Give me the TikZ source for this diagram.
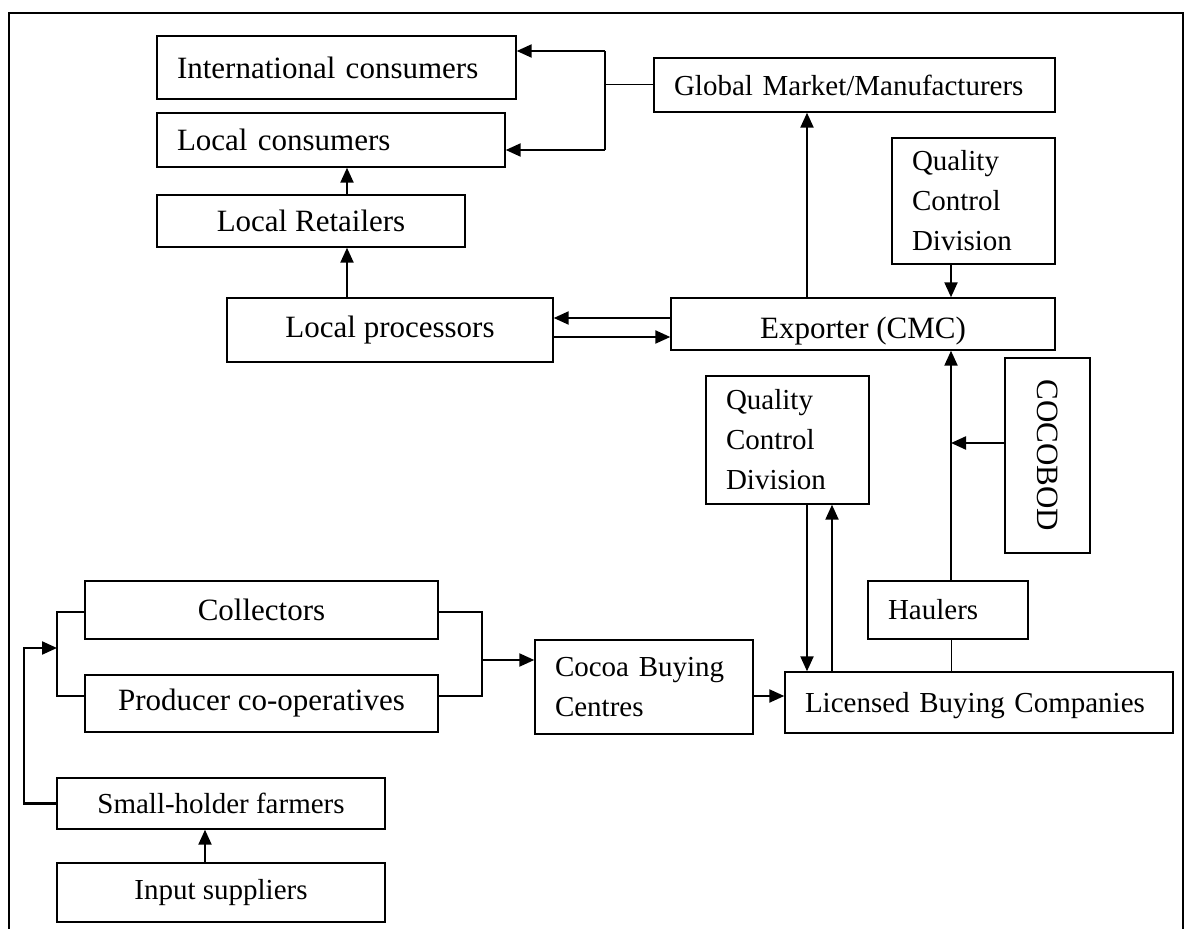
\documentclass[tikz,border=0pt]{standalone}
\usepackage{fontspec}
\usepackage{graphicx}
\setmainfont{Liberation Serif}
\usetikzlibrary{arrows.meta}

\begin{document}
\begin{tikzpicture}[
  x=0.5pt, y=-0.5pt,
  >={Triangle[length=7.5pt,width=6.5pt]},
  box/.style={draw, line width=0.7pt, inner sep=0pt, align=center},
  lbox/.style={box, align=left, inner xsep=10pt, text width=#1},
  big/.style={font=\fontsize{15.5}{19}\selectfont},
  small/.style={font=\fontsize{14.5}{20}\selectfont},
  arr/.style={->, line width=1.1pt},
  ln/.style={line width=0.8pt},
  thinln/.style={line width=0.5pt}
]
  \useasboundingbox (0,0) rectangle (1192,929);
  \draw[line width=0.7pt] (9,929) -- (9,13) -- (1183,13) -- (1183,929);

  % Consumers and retail side
  \node[lbox=159.5pt, big, minimum height=31.5pt] (intl) at (336.5,67.5) {International consumers};
  \node[lbox=154pt, big, minimum height=27pt] (localc) at (331,140) {Local consumers};
  \node[box, big, minimum width=154pt, minimum height=26pt] (retail) at (311,221) {Local Retailers};
  \node[box, big, minimum width=163pt, minimum height=32pt] (proc) at (390,330) {Local processors};

  % Export side
  \node[lbox=180.5pt, small, minimum height=27pt] (global) at (854.5,85) {Global Market/Manufacturers};
  \node[lbox=61.5pt, small, minimum height=63pt] (qcexp) at (973.5,201) {Quality\\Control\\Division};
  \node[box, big, minimum width=192pt, minimum height=26pt,
        text height=15pt, text depth=0pt] (exporter) at (863,324) {Exporter (CMC)};
  \node[lbox=61.5pt, small, minimum height=64pt] (qclbc) at (787.5,440) {Quality\\Control\\Division};
  \node[box, big, minimum width=42.5pt, minimum height=97.5pt] (cocobod) at (1047.5,455.5)
    {\rotatebox{-90}{COCOBOD}};
  \node[lbox=60pt, small, minimum height=29pt] (haulers) at (948,610) {Haulers};
  \node[lbox=174pt, small, minimum height=30.5pt, text depth=0pt] (lbc) at (979,702.5)
    {Licensed Buying Companies};

  % Farm side
  \node[lbox=89pt, small, minimum height=47pt] (cbc) at (644,687) {Cocoa Buying\\Centres};
  \node[box, big, minimum width=176.5pt, minimum height=29pt] (coll) at (261.5,610) {Collectors};
  \node[box, big, minimum width=176.5pt, minimum height=28.5pt] (prod) at (261.5,703.5) {Producer co-operatives};
  \node[box, small, minimum width=164pt, minimum height=25.5pt] (farmers) at (221,803.5) {Small-holder farmers};
  \node[box, small, minimum width=164pt, minimum height=29.5pt] (inputs) at (221,892.5) {Input suppliers};

  % global market fans out to consumers
  \coordinate (fanT) at (605,51);
  \coordinate (fanB) at (605,150);
  \draw[ln] (fanT) -- (fanB);
  \draw[thinln] (global.west) -- (global.west -| fanT);
  \draw[arr] (fanT) -- (fanT -| intl.east);
  \draw[arr] (fanB) -- (fanB -| localc.east);

  % local chain
  \coordinate (procUp) at ([xshift=-21.5pt]proc.north);
  \coordinate (retUp) at ([xshift=18pt]retail.north);
  \draw[arr] (procUp) -- (procUp |- retail.south);
  \draw[arr] (retUp) -- (retUp |- localc.south);
  \coordinate (expIn) at ([yshift=3pt]exporter.west);
  \coordinate (procOut) at ([yshift=-3.5pt]proc.east);
  \draw[arr] (expIn) -- (expIn -| proc.east);
  \draw[arr] (procOut) -- (procOut -| exporter.west);

  % exporter links
  \coordinate (expUp) at ([xshift=-28pt]exporter.north);
  \draw[arr] (expUp) -- (expUp |- global.south);
  \coordinate (qcDown) at ([xshift=-11.25pt]qcexp.south);
  \draw[arr] (qcDown) -- (qcDown |- exporter.north);
  \coordinate (haulUp) at ([xshift=1.5pt]haulers.north);
  \draw[arr] (haulUp) -- (haulUp |- exporter.south);
  \coordinate (cocoIn) at ([yshift=6.25pt]cocobod.west);
  \draw[arr] (cocoIn) -- (cocoIn -| haulUp);
  \draw[thinln] (haulUp |- haulers.south) -- (haulUp |- lbc.north);

  % quality control and LBCs
  \coordinate (qcA) at ([xshift=9.75pt]qclbc.south);
  \coordinate (qcB) at ([xshift=22.25pt]qclbc.south);
  \draw[arr] (qcA) -- (qcA |- lbc.north);
  \draw[arr] (qcB |- lbc.north) -- (qcB);

  % collectors / co-operatives bracket
  \coordinate (lbT) at (57,612);
  \coordinate (lbB) at (57,696);
  \coordinate (lbIn) at (57,648);
  \draw[ln] (lbT -| coll.west) -- (lbT) -- (lbB) -- (lbB -| prod.west);
  \coordinate (rbT) at (482,612);
  \coordinate (rbB) at (482,696);
  \coordinate (rbOut) at (482,660);
  \draw[ln] (rbT -| coll.east) -- (rbT) -- (rbB) -- (rbB -| prod.east);
  \draw[arr] (rbOut) -- (rbOut -| cbc.west);
  \coordinate (cbcOut) at ([yshift=-4.5pt]cbc.east);
  \draw[arr] (cbcOut) -- (cbcOut -| lbc.west);

  % farmers
  \draw[arr] (farmers.west) -- ++(-32,0) |- (lbIn);
  \coordinate (inUp) at ([xshift=-8pt]inputs.north);
  \draw[arr] (inUp) -- (inUp |- farmers.south);
\end{tikzpicture}
\end{document}
